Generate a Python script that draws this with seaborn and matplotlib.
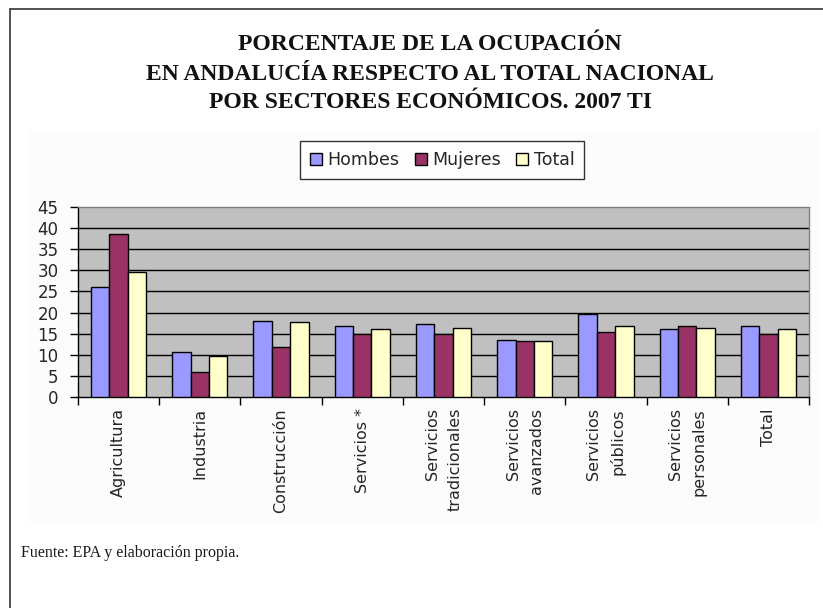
import numpy as np
import pandas as pd
import seaborn as sns
import matplotlib.pyplot as plt
from matplotlib.patches import Patch, Rectangle

# Data
sectores = ["Agricultura", "Industria", "Construcción", "Servicios *",
            "Servicios\ntradicionales", "Servicios\navanzados",
            "Servicios\npúblicos", "Servicios\npersonales", "Total"]
hombres = [26.1, 10.7, 18.1, 16.7, 17.4, 13.5, 19.6, 16.0, 16.7]
mujeres = [38.7, 5.9, 11.9, 15.0, 15.0, 13.2, 15.3, 16.7, 15.0]
total = [29.6, 9.7, 17.7, 16.0, 16.4, 13.2, 16.7, 16.4, 16.0]
series = ["Hombes", "Mujeres", "Total"]
colores = ["#9999FF", "#993366", "#FFFFCC"]

df = pd.DataFrame({
    "sector": sectores * 3,
    "serie": np.repeat(series, len(sectores)),
    "valor": hombres + mujeres + total,
})

sns.set_style("white")
plt.rcParams['font.family'] = ['DejaVu Sans']

fig = plt.figure(figsize=(8.23, 6.08), dpi=100)
W, H = 823, 608

# outer frame and faint chart area
fig.patches.append(Rectangle((10 / W, -0.01), 1.0, 1 - 9 / H + 0.01, transform=fig.transFigure,
                             fill=False, edgecolor="#333333", linewidth=1.2))
fig.patches.append(Rectangle((28 / W, 1 - 524 / H), 792 / W, 393 / H, transform=fig.transFigure,
                             facecolor="#fcfcfc", edgecolor="none", zorder=-1))

ax = fig.add_axes([78 / W, 1 - 397 / H, 731 / W, 190 / H])
ax.set_facecolor("#C0C0C0")
sns.barplot(data=df, x="sector", y="valor", hue="serie", palette=colores, saturation=1,
            width=0.68, edgecolor="black", linewidth=1, ax=ax, legend=False, zorder=3)

ax.set_ylim(0, 45)
ax.set_xlim(-0.5, len(sectores) - 0.5)
ax.set_yticks(np.arange(0, 46, 5))
for y in range(5, 45, 5):
    ax.axhline(y, color="black", linewidth=1, zorder=1)

# ticks between groups, labels at group centers
ax.set_xticks(np.arange(-0.5, len(sectores), 1))
ax.set_xticklabels([])
ax.set_xticks(np.arange(len(sectores)), minor=True)
ax.set_xticklabels(sectores, minor=True, rotation=90, ha="center", va="top",
                   multialignment="right", fontsize=11.5, linespacing=1.65)
ax.tick_params(axis="x", which="major", length=6, width=1, color="black", direction="out", bottom=True)
ax.tick_params(axis="x", which="minor", length=0, pad=8)
ax.tick_params(axis="y", length=6, width=1, color="black", direction="out", left=True,
               labelsize=12, pad=8)
ax.set_xlabel("")
ax.set_ylabel("")

for s in ["left", "bottom"]:
    ax.spines[s].set_color("black")
    ax.spines[s].set_linewidth(1)
for s in ["top", "right"]:
    ax.spines[s].set_visible(True)
    ax.spines[s].set_color("#808080")
    ax.spines[s].set_linewidth(1)

# title
titulo = ["PORCENTAJE DE LA OCUPACIÓN",
          "EN ANDALUCÍA RESPECTO AL TOTAL NACIONAL",
          "POR SECTORES ECONÓMICOS. 2007 TI"]
for i, linea in enumerate(titulo):
    fig.text(430 / W, 1 - (45 + 29 * i) / H, linea, ha="center", va="center",
             fontsize=17, fontweight="bold", family=["Liberation Serif", "DejaVu Serif"], color="#111111")

# legend
handles = [Patch(facecolor=c, edgecolor="black", linewidth=1) for c in colores]
leg = fig.legend(handles, series, loc="center", bbox_to_anchor=(442 / W, 1 - 160 / H), ncol=3,
                 frameon=True, fancybox=False, edgecolor="black", fontsize=12.5,
                 handlelength=0.7, handleheight=0.7, handletextpad=0.3, columnspacing=0.9,
                 borderpad=0.55, borderaxespad=0)
leg.get_frame().set_linewidth(1)

fig.text(21 / W, 1 - 553 / H, "Fuente: EPA y elaboración propia.", ha="left", va="center",
         fontsize=11.5, family=["Liberation Serif", "DejaVu Serif"], color="#1a1a1a")

fig.savefig("out.png", dpi=100)
